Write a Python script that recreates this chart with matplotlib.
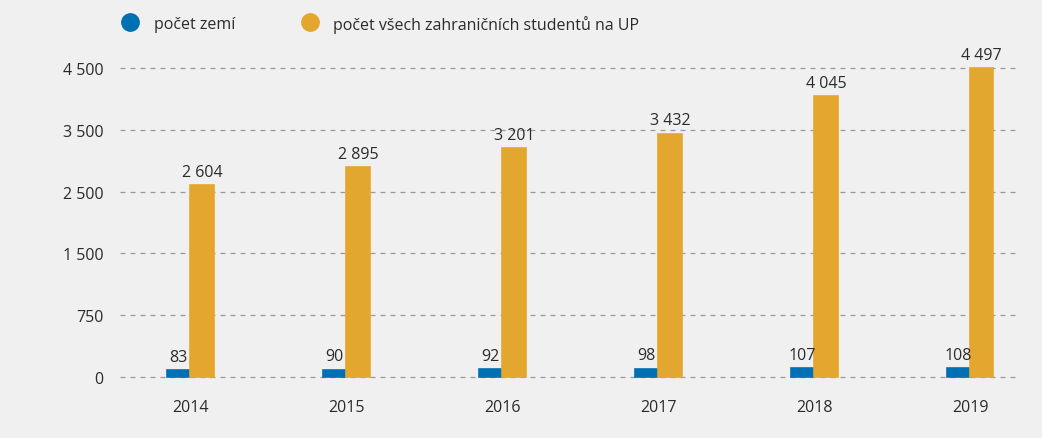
import numpy as np
import matplotlib

matplotlib.use("Agg")
import matplotlib.pyplot as plt
from matplotlib.lines import Line2D

years = ["2014", "2015", "2016", "2017", "2018", "2019"]
countries = [83, 90, 92, 98, 107, 108]
students = [2604, 2895, 3201, 3432, 4045, 4497]
y_ticks = [0, 750, 1500, 2500, 3500, 4500]
legend_labels = ["počet zemí", "počet všech zahraničních studentů na UP"]

blue = "#0070b4"
orange = "#e3a72f"
bg = "#f0f0f0"
text_color = "#2b2b2b"

plt.rcParams["font.family"] = ["Open Sans", "DejaVu Sans"]

tick_pos = np.arange(len(y_ticks), dtype=float)


def forward(v):
    return np.interp(v, y_ticks, tick_pos)


def inverse(p):
    return np.interp(p, tick_pos, y_ticks)


def fmt(v):
    return f"{v:,}".replace(",", " ")


fig = plt.figure(figsize=(10.42, 4.39), dpi=100, facecolor=bg)
ax = fig.add_axes([0.1152, 0.139, 0.8637, 0.7039])
ax.set_facecolor(bg)
ax.set_yscale("function", functions=(forward, inverse))

x = np.arange(len(years))
w = 0.15
b1 = ax.bar(x - w / 2, countries, w, color=blue, edgecolor=blue, linewidth=1.2, zorder=3, clip_on=False)
b2 = ax.bar(x + w / 2, students, w, color=orange, edgecolor=orange, linewidth=1.2, zorder=3, clip_on=False)

for bars, vals in ((b1, countries), (b2, students)):
    for bar, v in zip(bars, vals):
        ax.annotate(fmt(v), (bar.get_x() + bar.get_width() / 2, v),
                    xytext=(0, 4), textcoords="offset points",
                    ha="center", va="bottom", fontsize=11.5, color=text_color,
                    annotation_clip=False)

ax.set_xlim(-0.45, 5.32)
ax.set_ylim(0, 4500)
ax.set_yticks(y_ticks)
ax.set_yticklabels([fmt(t) for t in y_ticks])
ax.set_xticks(x)
ax.set_xticklabels(years)
ax.tick_params(axis="y", length=0, pad=12, labelsize=11.5, labelcolor=text_color)
ax.tick_params(axis="x", length=0, pad=16, labelsize=11.5, labelcolor=text_color)
ax.minorticks_off()
ax.set_axisbelow(True)
ax.yaxis.grid(True, color="#9a9a9a", linestyle=(0, (4, 4)), linewidth=0.9)
for gl in ax.get_ygridlines():
    gl.set_clip_on(False)
for s in ax.spines.values():
    s.set_visible(False)

# legend drawn by hand so the circles and texts sit where they do in the original
for (cx, tx), color, label in zip([(0.1252, 0.1478), (0.2975, 0.3196)], [blue, orange], legend_labels):
    fig.add_artist(Line2D([cx], [0.9465], marker="o", ls="", color=color,
                          markersize=12.5, transform=fig.transFigure))
    fig.text(tx, 0.944, label, fontsize=11.5, color=text_color, va="center", ha="left")

fig.savefig("out.png", dpi=100, facecolor=bg)
